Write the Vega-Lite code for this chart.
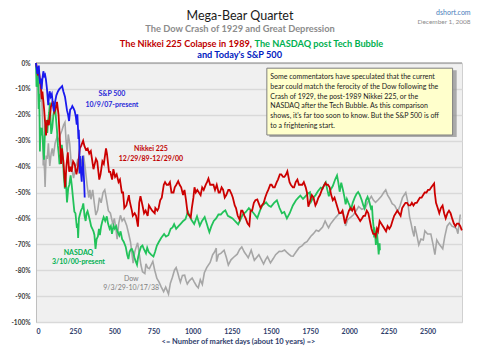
{
"$schema": "https://vega.github.io/schema/vega-lite/v6.json",
"width": 426, "height": 259,
"padding": {"left": 10, "top": 8, "right": 8, "bottom": 7},
"background": "white",
"title": {"text": "Mega-Bear Quartet", "subtitle": "The Dow Crash of 1929 and Great Depression", "anchor": "middle", "dx": -9, "offset": -26, "font": "Lato", "fontSize": 12.5, "fontWeight": "normal", "color": "#1a1a1a", "subtitleFont": "Lato", "subtitleFontSize": 9.3, "subtitleFontWeight": "bold", "subtitleColor": "#8c8c8c", "subtitlePadding": 3},
"datasets": {
"dow": [{"day":0,"pct":0},{"day":5,"pct":-2},{"day":13,"pct":-3},{"day":20,"pct":-8},{"day":25,"pct":-15},{"day":30,"pct":-7.6},{"day":36,"pct":-12},{"day":41,"pct":-20},{"day":45,"pct":-31.6},{"day":46,"pct":-39.6},{"day":48,"pct":-28},{"day":52,"pct":-39},{"day":55,"pct":-42},{"day":58,"pct":-47.9},{"day":62,"pct":-40},{"day":65,"pct":-35.7},{"day":72,"pct":-37},{"day":79,"pct":-31},{"day":84,"pct":-36},{"day":88,"pct":-39.7},{"day":97,"pct":-34.8},{"day":104,"pct":-33},{"day":111,"pct":-36},{"day":122,"pct":-31},{"day":134,"pct":-28.6},{"day":144,"pct":-30},{"day":154,"pct":-27.8},{"day":166,"pct":-26},{"day":176,"pct":-24},{"day":185,"pct":-22.9},{"day":192,"pct":-30},{"day":199,"pct":-34.4},{"day":206,"pct":-27.6},{"day":215,"pct":-31},{"day":224,"pct":-38},{"day":232,"pct":-42},{"day":240,"pct":-44.4},{"day":252,"pct":-40},{"day":260,"pct":-39},{"day":267,"pct":-37},{"day":277,"pct":-42.8},{"day":290,"pct":-38},{"day":304,"pct":-35.7},{"day":315,"pct":-41},{"day":326,"pct":-47},{"day":337,"pct":-52},{"day":344,"pct":-49},{"day":351,"pct":-52.6},{"day":362,"pct":-49},{"day":372,"pct":-54},{"day":382,"pct":-58.7},{"day":394,"pct":-56.8},{"day":405,"pct":-52},{"day":416,"pct":-54},{"day":428,"pct":-50},{"day":439,"pct":-49},{"day":451,"pct":-53},{"day":462,"pct":-57},{"day":475,"pct":-58},{"day":491,"pct":-62.3},{"day":500,"pct":-60},{"day":510,"pct":-64},{"day":518,"pct":-68},{"day":528,"pct":-62},{"day":539,"pct":-58.8},{"day":550,"pct":-61},{"day":562,"pct":-60},{"day":579,"pct":-62.7},{"day":592,"pct":-66},{"day":603,"pct":-69},{"day":609,"pct":-71.7},{"day":620,"pct":-77.3},{"day":630,"pct":-73},{"day":640,"pct":-71},{"day":649,"pct":-69.4},{"day":660,"pct":-74},{"day":670,"pct":-78},{"day":680,"pct":-80.6},{"day":695,"pct":-81.3},{"day":702,"pct":-77.5},{"day":712,"pct":-79},{"day":724,"pct":-79.4},{"day":735,"pct":-78},{"day":746,"pct":-76.6},{"day":758,"pct":-80},{"day":772,"pct":-83.2},{"day":785,"pct":-84.5},{"day":800,"pct":-86.5},{"day":815,"pct":-88.3},{"day":828,"pct":-86.5},{"day":838,"pct":-88},{"day":846,"pct":-89.2},{"day":858,"pct":-85},{"day":871,"pct":-82.7},{"day":884,"pct":-80},{"day":895,"pct":-79},{"day":905,"pct":-81},{"day":914,"pct":-83},{"day":922,"pct":-84.6},{"day":935,"pct":-82},{"day":949,"pct":-81.9},{"day":958,"pct":-84},{"day":966,"pct":-85.3},{"day":980,"pct":-84},{"day":997,"pct":-83},{"day":1010,"pct":-84.5},{"day":1024,"pct":-86},{"day":1036,"pct":-86.8},{"day":1049,"pct":-83.7},{"day":1062,"pct":-85.5},{"day":1075,"pct":-81},{"day":1090,"pct":-79},{"day":1112,"pct":-77},{"day":1128,"pct":-74},{"day":1140,"pct":-73},{"day":1151,"pct":-71.5},{"day":1153,"pct":-76.7},{"day":1165,"pct":-74},{"day":1180,"pct":-73.5},{"day":1201,"pct":-72.3},{"day":1215,"pct":-75},{"day":1228,"pct":-78},{"day":1245,"pct":-76},{"day":1262,"pct":-75},{"day":1285,"pct":-73.8},{"day":1300,"pct":-72},{"day":1314,"pct":-71},{"day":1330,"pct":-73},{"day":1342,"pct":-74},{"day":1355,"pct":-75.2},{"day":1374,"pct":-72.3},{"day":1394,"pct":-76.2},{"day":1410,"pct":-75},{"day":1423,"pct":-74},{"day":1440,"pct":-76},{"day":1453,"pct":-77.6},{"day":1465,"pct":-76},{"day":1478,"pct":-74.8},{"day":1497,"pct":-77.2},{"day":1515,"pct":-75.5},{"day":1530,"pct":-74},{"day":1553,"pct":-72.7},{"day":1570,"pct":-72.8},{"day":1587,"pct":-72.2},{"day":1600,"pct":-73},{"day":1612,"pct":-73.7},{"day":1628,"pct":-74.5},{"day":1642,"pct":-74.6},{"day":1660,"pct":-73},{"day":1680,"pct":-71.3},{"day":1700,"pct":-70.5},{"day":1715,"pct":-69.5},{"day":1730,"pct":-69},{"day":1755,"pct":-66.9},{"day":1770,"pct":-66},{"day":1789,"pct":-64.6},{"day":1805,"pct":-65},{"day":1830,"pct":-63.3},{"day":1846,"pct":-61},{"day":1858,"pct":-62.5},{"day":1868,"pct":-63.6},{"day":1880,"pct":-62.2},{"day":1895,"pct":-61},{"day":1915,"pct":-59.5},{"day":1933,"pct":-58.3},{"day":1958,"pct":-57.2},{"day":1970,"pct":-60},{"day":1977,"pct":-62.9},{"day":1990,"pct":-60.5},{"day":2010,"pct":-59.5},{"day":2027,"pct":-58.6},{"day":2045,"pct":-57},{"day":2060,"pct":-55.4},{"day":2080,"pct":-56.5},{"day":2102,"pct":-56},{"day":2120,"pct":-53.5},{"day":2141,"pct":-51.5},{"day":2155,"pct":-53},{"day":2168,"pct":-53.8},{"day":2185,"pct":-52.8},{"day":2205,"pct":-51.5},{"day":2220,"pct":-50},{"day":2233,"pct":-49},{"day":2245,"pct":-51},{"day":2260,"pct":-52.5},{"day":2274,"pct":-54.3},{"day":2290,"pct":-55},{"day":2303,"pct":-56.5},{"day":2311,"pct":-57.2},{"day":2325,"pct":-55},{"day":2340,"pct":-52},{"day":2361,"pct":-50},{"day":2372,"pct":-53},{"day":2385,"pct":-59.3},{"day":2395,"pct":-62},{"day":2405,"pct":-65},{"day":2414,"pct":-67},{"day":2419,"pct":-63},{"day":2430,"pct":-66},{"day":2444,"pct":-70.2},{"day":2458,"pct":-68},{"day":2473,"pct":-68.3},{"day":2483,"pct":-64.8},{"day":2500,"pct":-66},{"day":2521,"pct":-66},{"day":2535,"pct":-70},{"day":2547,"pct":-74},{"day":2559,"pct":-68.3},{"day":2575,"pct":-70},{"day":2597,"pct":-71.7},{"day":2610,"pct":-67},{"day":2625,"pct":-63},{"day":2641,"pct":-61.7},{"day":2656,"pct":-63},{"day":2672,"pct":-63.4},{"day":2685,"pct":-64},{"day":2694,"pct":-65.9},{"day":2709,"pct":-58.5}],
"nasdaq": [{"day":0,"pct":0},{"day":3,"pct":-9.2},{"day":7,"pct":-5},{"day":10,"pct":-1.7},{"day":14,"pct":-10},{"day":17,"pct":-17.8},{"day":20,"pct":-11.9},{"day":23,"pct":-22},{"day":25,"pct":-34.2},{"day":28,"pct":-24.9},{"day":33,"pct":-28},{"day":38,"pct":-25},{"day":44,"pct":-31},{"day":51,"pct":-37.3},{"day":55,"pct":-30},{"day":59,"pct":-24.5},{"day":66,"pct":-22},{"day":72,"pct":-27},{"day":78,"pct":-22},{"day":84,"pct":-19},{"day":89,"pct":-15.3},{"day":93,"pct":-22},{"day":97,"pct":-27.4},{"day":104,"pct":-25},{"day":111,"pct":-20},{"day":117,"pct":-18},{"day":121,"pct":-16.1},{"day":127,"pct":-21},{"day":134,"pct":-26},{"day":140,"pct":-32},{"day":145,"pct":-35},{"day":150,"pct":-39.1},{"day":157,"pct":-36},{"day":165,"pct":-31.6},{"day":172,"pct":-37},{"day":178,"pct":-44},{"day":184,"pct":-48.5},{"day":187,"pct":-42.7},{"day":193,"pct":-48},{"day":198,"pct":-53.8},{"day":206,"pct":-48.2},{"day":213,"pct":-47},{"day":221,"pct":-43.4},{"day":228,"pct":-47},{"day":236,"pct":-52},{"day":245,"pct":-57.4},{"day":252,"pct":-58},{"day":261,"pct":-63.7},{"day":265,"pct":-62},{"day":269,"pct":-67.6},{"day":274,"pct":-60},{"day":279,"pct":-58.8},{"day":287,"pct":-57},{"day":295,"pct":-56},{"day":302,"pct":-54.2},{"day":310,"pct":-59},{"day":317,"pct":-61},{"day":323,"pct":-58},{"day":329,"pct":-57.2},{"day":337,"pct":-59},{"day":345,"pct":-61},{"day":352,"pct":-63},{"day":360,"pct":-64},{"day":367,"pct":-65},{"day":373,"pct":-66.4},{"day":380,"pct":-71.8},{"day":387,"pct":-68},{"day":395,"pct":-67},{"day":402,"pct":-64},{"day":408,"pct":-66.5},{"day":416,"pct":-63},{"day":424,"pct":-61},{"day":432,"pct":-59.5},{"day":442,"pct":-61},{"day":452,"pct":-59.2},{"day":460,"pct":-62},{"day":470,"pct":-64},{"day":478,"pct":-63},{"day":485,"pct":-66},{"day":495,"pct":-62.8},{"day":503,"pct":-64},{"day":512,"pct":-63},{"day":520,"pct":-65},{"day":532,"pct":-66.6},{"day":540,"pct":-65},{"day":550,"pct":-68},{"day":560,"pct":-69},{"day":573,"pct":-71},{"day":582,"pct":-74},{"day":590,"pct":-75.7},{"day":597,"pct":-73},{"day":605,"pct":-72},{"day":612,"pct":-71.8},{"day":620,"pct":-73},{"day":628,"pct":-75},{"day":638,"pct":-76.8},{"day":645,"pct":-77.9},{"day":652,"pct":-75},{"day":660,"pct":-73},{"day":670,"pct":-71},{"day":680,"pct":-70.5},{"day":690,"pct":-72},{"day":702,"pct":-73.5},{"day":710,"pct":-71.3},{"day":720,"pct":-73},{"day":735,"pct":-74},{"day":750,"pct":-74.7},{"day":760,"pct":-73},{"day":772,"pct":-70.5},{"day":785,"pct":-69},{"day":800,"pct":-67.5},{"day":818,"pct":-66},{"day":830,"pct":-67},{"day":845,"pct":-66.5},{"day":860,"pct":-64},{"day":872,"pct":-63.5},{"day":882,"pct":-62.2},{"day":895,"pct":-64},{"day":910,"pct":-63},{"day":925,"pct":-62},{"day":940,"pct":-61},{"day":954,"pct":-60.3},{"day":970,"pct":-57.4},{"day":980,"pct":-59},{"day":992,"pct":-60.5},{"day":1010,"pct":-62.2},{"day":1028,"pct":-59.2},{"day":1046,"pct":-62.8},{"day":1060,"pct":-61},{"day":1077,"pct":-59.5},{"day":1090,"pct":-62},{"day":1100,"pct":-64},{"day":1107,"pct":-65.3},{"day":1120,"pct":-63},{"day":1135,"pct":-61},{"day":1150,"pct":-60},{"day":1165,"pct":-58.5},{"day":1180,"pct":-58.5},{"day":1195,"pct":-57.5},{"day":1209,"pct":-56.9},{"day":1225,"pct":-59},{"day":1240,"pct":-59.5},{"day":1255,"pct":-60},{"day":1270,"pct":-61},{"day":1291,"pct":-62.3},{"day":1305,"pct":-60.5},{"day":1320,"pct":-58.5},{"day":1340,"pct":-57.5},{"day":1359,"pct":-56},{"day":1375,"pct":-57},{"day":1390,"pct":-58},{"day":1413,"pct":-59.9},{"day":1430,"pct":-57},{"day":1445,"pct":-55},{"day":1469,"pct":-53.8},{"day":1485,"pct":-55},{"day":1500,"pct":-55.5},{"day":1520,"pct":-54},{"day":1538,"pct":-53},{"day":1555,"pct":-56},{"day":1570,"pct":-58},{"day":1585,"pct":-57.5},{"day":1602,"pct":-60},{"day":1620,"pct":-58},{"day":1640,"pct":-55},{"day":1660,"pct":-53},{"day":1675,"pct":-52},{"day":1688,"pct":-51.2},{"day":1705,"pct":-52.5},{"day":1720,"pct":-51.5},{"day":1735,"pct":-50.5},{"day":1749,"pct":-49.9},{"day":1756,"pct":-53.6},{"day":1770,"pct":-52},{"day":1785,"pct":-51},{"day":1800,"pct":-49.5},{"day":1818,"pct":-48.1},{"day":1830,"pct":-48.5},{"day":1840,"pct":-47},{"day":1850,"pct":-46.1},{"day":1860,"pct":-49},{"day":1870,"pct":-51.5},{"day":1880,"pct":-49},{"day":1895,"pct":-47.5},{"day":1910,"pct":-45},{"day":1922,"pct":-43.4},{"day":1930,"pct":-46},{"day":1939,"pct":-49.7},{"day":1949,"pct":-46.2},{"day":1960,"pct":-49},{"day":1970,"pct":-52},{"day":1977,"pct":-54.6},{"day":1985,"pct":-52.5},{"day":1995,"pct":-54},{"day":2003,"pct":-55},{"day":2010,"pct":-57},{"day":2022,"pct":-54},{"day":2035,"pct":-52},{"day":2047,"pct":-50.5},{"day":2057,"pct":-49.8},{"day":2068,"pct":-51},{"day":2080,"pct":-53},{"day":2090,"pct":-55},{"day":2098,"pct":-56.1},{"day":2107,"pct":-53},{"day":2117,"pct":-51.7},{"day":2128,"pct":-53.5},{"day":2141,"pct":-56.8},{"day":2145,"pct":-55},{"day":2151,"pct":-60.7},{"day":2155,"pct":-63},{"day":2159,"pct":-67.4},{"day":2160,"pct":-63.5},{"day":2165,"pct":-66},{"day":2170,"pct":-70.2},{"day":2176,"pct":-64.7},{"day":2182,"pct":-69},{"day":2188,"pct":-73.9},{"day":2194,"pct":-69.6},{"day":2196,"pct":-72.3}],
"nikkei": [{"day":0,"pct":0},{"day":6,"pct":-2},{"day":12,"pct":-4.5},{"day":21,"pct":-4.4},{"day":31,"pct":-9},{"day":37,"pct":-14},{"day":41,"pct":-11},{"day":52,"pct":-18},{"day":64,"pct":-28},{"day":72,"pct":-22},{"day":82,"pct":-24},{"day":95,"pct":-17},{"day":107,"pct":-14.7},{"day":117,"pct":-19},{"day":124,"pct":-18},{"day":134,"pct":-15},{"day":144,"pct":-20},{"day":155,"pct":-33},{"day":160,"pct":-39},{"day":165,"pct":-33},{"day":175,"pct":-38},{"day":186,"pct":-48},{"day":194,"pct":-40},{"day":203,"pct":-34.5},{"day":212,"pct":-42},{"day":220,"pct":-40},{"day":227,"pct":-42},{"day":237,"pct":-38},{"day":247,"pct":-39},{"day":258,"pct":-43},{"day":268,"pct":-40},{"day":280,"pct":-33},{"day":288,"pct":-32},{"day":301,"pct":-30},{"day":309,"pct":-32},{"day":319,"pct":-33.5},{"day":330,"pct":-33},{"day":340,"pct":-35},{"day":350,"pct":-34},{"day":367,"pct":-41},{"day":371,"pct":-40},{"day":383,"pct":-37},{"day":391,"pct":-38},{"day":404,"pct":-45},{"day":412,"pct":-43},{"day":424,"pct":-38},{"day":433,"pct":-39},{"day":447,"pct":-33},{"day":453,"pct":-35},{"day":466,"pct":-42},{"day":474,"pct":-42},{"day":486,"pct":-45},{"day":494,"pct":-41},{"day":505,"pct":-44},{"day":515,"pct":-43},{"day":527,"pct":-46},{"day":536,"pct":-45},{"day":548,"pct":-50},{"day":556,"pct":-50},{"day":564,"pct":-56},{"day":577,"pct":-55},{"day":593,"pct":-51},{"day":597,"pct":-53},{"day":612,"pct":-57},{"day":618,"pct":-59},{"day":630,"pct":-58},{"day":639,"pct":-59},{"day":651,"pct":-63.2},{"day":659,"pct":-54},{"day":667,"pct":-51.4},{"day":680,"pct":-55},{"day":690,"pct":-58},{"day":700,"pct":-57},{"day":713,"pct":-59},{"day":721,"pct":-55},{"day":731,"pct":-56},{"day":742,"pct":-57},{"day":758,"pct":-58},{"day":762,"pct":-56},{"day":775,"pct":-57},{"day":783,"pct":-56},{"day":793,"pct":-53},{"day":803,"pct":-52},{"day":816,"pct":-47},{"day":824,"pct":-46},{"day":834,"pct":-47},{"day":845,"pct":-47},{"day":855,"pct":-46},{"day":865,"pct":-50},{"day":878,"pct":-50},{"day":886,"pct":-48},{"day":896,"pct":-47},{"day":908,"pct":-45.6},{"day":917,"pct":-47},{"day":927,"pct":-48},{"day":939,"pct":-51},{"day":948,"pct":-49},{"day":958,"pct":-53},{"day":968,"pct":-58},{"day":988,"pct":-59.6},{"day":995,"pct":-56},{"day":1005,"pct":-52},{"day":1012,"pct":-48},{"day":1020,"pct":-50},{"day":1030,"pct":-49},{"day":1040,"pct":-50},{"day":1051,"pct":-51},{"day":1061,"pct":-48},{"day":1071,"pct":-49},{"day":1084,"pct":-47},{"day":1092,"pct":-46},{"day":1101,"pct":-44.6},{"day":1112,"pct":-47},{"day":1125,"pct":-47},{"day":1133,"pct":-47},{"day":1143,"pct":-49},{"day":1154,"pct":-47},{"day":1166,"pct":-50},{"day":1174,"pct":-50},{"day":1185,"pct":-48},{"day":1195,"pct":-49},{"day":1205,"pct":-52},{"day":1215,"pct":-51},{"day":1228,"pct":-49},{"day":1236,"pct":-49},{"day":1248,"pct":-50.5},{"day":1257,"pct":-52},{"day":1269,"pct":-55},{"day":1277,"pct":-56},{"day":1288,"pct":-59},{"day":1300,"pct":-60.5},{"day":1310,"pct":-57},{"day":1318,"pct":-57},{"day":1331,"pct":-59},{"day":1339,"pct":-60},{"day":1351,"pct":-62},{"day":1362,"pct":-62.8},{"day":1370,"pct":-57},{"day":1380,"pct":-57},{"day":1391,"pct":-54},{"day":1401,"pct":-53},{"day":1413,"pct":-52.7},{"day":1421,"pct":-54},{"day":1434,"pct":-56},{"day":1442,"pct":-55},{"day":1454,"pct":-54},{"day":1463,"pct":-52},{"day":1475,"pct":-50},{"day":1483,"pct":-49},{"day":1496,"pct":-47},{"day":1504,"pct":-47},{"day":1514,"pct":-48},{"day":1524,"pct":-48},{"day":1537,"pct":-46},{"day":1545,"pct":-45},{"day":1557,"pct":-43},{"day":1566,"pct":-43},{"day":1578,"pct":-44},{"day":1586,"pct":-44},{"day":1597,"pct":-43},{"day":1605,"pct":-41.8},{"day":1619,"pct":-46},{"day":1627,"pct":-47},{"day":1640,"pct":-48},{"day":1648,"pct":-48},{"day":1658,"pct":-46},{"day":1669,"pct":-45},{"day":1679,"pct":-47},{"day":1689,"pct":-47},{"day":1700,"pct":-47},{"day":1710,"pct":-46},{"day":1722,"pct":-48},{"day":1730,"pct":-50},{"day":1739,"pct":-55.5},{"day":1751,"pct":-53},{"day":1761,"pct":-51},{"day":1772,"pct":-52},{"day":1784,"pct":-55},{"day":1792,"pct":-54},{"day":1803,"pct":-52},{"day":1813,"pct":-51},{"day":1825,"pct":-49},{"day":1833,"pct":-48},{"day":1848,"pct":-46.3},{"day":1854,"pct":-47},{"day":1864,"pct":-47},{"day":1875,"pct":-48},{"day":1885,"pct":-51},{"day":1895,"pct":-53},{"day":1906,"pct":-52},{"day":1916,"pct":-54},{"day":1926,"pct":-56},{"day":1936,"pct":-58},{"day":1947,"pct":-58},{"day":1957,"pct":-57},{"day":1973,"pct":-62},{"day":1978,"pct":-61},{"day":1988,"pct":-59},{"day":1998,"pct":-57},{"day":2009,"pct":-56},{"day":2019,"pct":-57},{"day":2031,"pct":-55.5},{"day":2039,"pct":-58},{"day":2050,"pct":-59},{"day":2060,"pct":-60},{"day":2070,"pct":-61},{"day":2081,"pct":-60},{"day":2091,"pct":-59},{"day":2101,"pct":-59},{"day":2112,"pct":-57},{"day":2122,"pct":-58},{"day":2132,"pct":-61},{"day":2142,"pct":-64},{"day":2153,"pct":-66},{"day":2163,"pct":-66},{"day":2169,"pct":-66.9},{"day":2177,"pct":-64},{"day":2184,"pct":-65},{"day":2194,"pct":-61},{"day":2204,"pct":-62},{"day":2215,"pct":-63},{"day":2225,"pct":-64},{"day":2235,"pct":-65},{"day":2245,"pct":-63},{"day":2256,"pct":-64},{"day":2266,"pct":-63},{"day":2276,"pct":-61},{"day":2287,"pct":-59},{"day":2297,"pct":-58},{"day":2307,"pct":-57},{"day":2318,"pct":-58},{"day":2328,"pct":-59},{"day":2338,"pct":-56},{"day":2348,"pct":-55},{"day":2359,"pct":-54},{"day":2369,"pct":-54},{"day":2379,"pct":-55},{"day":2390,"pct":-55},{"day":2400,"pct":-54},{"day":2410,"pct":-55},{"day":2421,"pct":-54},{"day":2431,"pct":-54},{"day":2441,"pct":-53},{"day":2451,"pct":-52},{"day":2462,"pct":-52},{"day":2472,"pct":-51},{"day":2482,"pct":-50},{"day":2493,"pct":-50},{"day":2503,"pct":-49},{"day":2513,"pct":-49},{"day":2524,"pct":-48},{"day":2542,"pct":-46.5},{"day":2546,"pct":-50},{"day":2554,"pct":-54},{"day":2565,"pct":-56},{"day":2575,"pct":-58},{"day":2585,"pct":-56},{"day":2596,"pct":-55},{"day":2606,"pct":-58},{"day":2616,"pct":-60},{"day":2627,"pct":-58},{"day":2637,"pct":-57},{"day":2647,"pct":-58},{"day":2657,"pct":-60},{"day":2668,"pct":-62},{"day":2678,"pct":-63},{"day":2688,"pct":-62},{"day":2699,"pct":-62},{"day":2709,"pct":-63},{"day":2719,"pct":-64.6}],
"sp500": [{"day":0,"pct":0},{"day":4,"pct":-2},{"day":9,"pct":-4.2},{"day":14,"pct":-2},{"day":18,"pct":-1},{"day":22,"pct":-5},{"day":26,"pct":-8},{"day":31,"pct":-6},{"day":36,"pct":-10.1},{"day":41,"pct":-6},{"day":47,"pct":-3.2},{"day":53,"pct":-5},{"day":58,"pct":-4.5},{"day":63,"pct":-6.2},{"day":70,"pct":-10},{"day":78,"pct":-16.3},{"day":83,"pct":-13},{"day":87,"pct":-10.9},{"day":94,"pct":-13},{"day":101,"pct":-12},{"day":108,"pct":-16},{"day":114,"pct":-18.7},{"day":122,"pct":-15},{"day":130,"pct":-12.5},{"day":140,"pct":-11},{"day":150,"pct":-10},{"day":158,"pct":-9.5},{"day":167,"pct":-8.9},{"day":175,"pct":-11},{"day":185,"pct":-13},{"day":198,"pct":-18.3},{"day":205,"pct":-20},{"day":211,"pct":-22.4},{"day":218,"pct":-18},{"day":226,"pct":-17.5},{"day":232,"pct":-16.6},{"day":240,"pct":-17.5},{"day":247,"pct":-18.5},{"day":255,"pct":-21},{"day":260,"pct":-23.8},{"day":264,"pct":-19.8},{"day":268,"pct":-25},{"day":271,"pct":-29.3},{"day":273,"pct":-25.8},{"day":276,"pct":-30},{"day":279,"pct":-42.6},{"day":281,"pct":-35.9},{"day":283,"pct":-42},{"day":285,"pct":-40},{"day":288,"pct":-43},{"day":292,"pct":-45.8},{"day":295,"pct":-40},{"day":298,"pct":-35.8},{"day":301,"pct":-39},{"day":304,"pct":-42},{"day":308,"pct":-47},{"day":311,"pct":-51.9}]
},
"layer": [
{"data": {"name": "dow"}, "mark": {"type": "line", "color": "#a6a6a6", "strokeWidth": 1.6},
 "encoding": {
  "x": {"field": "day", "type": "quantitative", "scale": {"domain": [0, 2720], "nice": false, "zero": false},
        "axis": {"values": [0,250,500,750,1000,1250,1500,1750,2000,2250,2500], "format": "d", "title": "<= Number of market days (about 10 years) =>"}},
  "y": {"field": "pct", "type": "quantitative", "scale": {"domain": [-100, 0], "nice": false},
        "axis": {"values": [0,-10,-20,-30,-40,-50,-60,-70,-80,-90,-100], "labelExpr": "datum.value + '%'", "title": null}}}},
{"data": {"values": [{}]}, "mark": {"type": "rule", "color": "#8a8a8a", "strokeWidth": 1}, "encoding": {"y": {"datum": 0, "type": "quantitative"}}},
{"data": {"name": "nasdaq"}, "mark": {"type": "line", "color": "#22c25a", "strokeWidth": 1.8},
 "encoding": {"x": {"field": "day", "type": "quantitative"}, "y": {"field": "pct", "type": "quantitative"}}},
{"data": {"name": "nikkei"}, "mark": {"type": "line", "color": "#cc0000", "strokeWidth": 1.8},
 "encoding": {"x": {"field": "day", "type": "quantitative"}, "y": {"field": "pct", "type": "quantitative"}}},
{"data": {"name": "sp500"}, "mark": {"type": "line", "color": "#1a1aee", "strokeWidth": 1.8},
 "encoding": {"x": {"field": "day", "type": "quantitative"}, "y": {"field": "pct", "type": "quantitative"}}},
{"data": {"values": [{}]}, "mark": {"type": "rect", "fill": "#8c8c8c", "opacity": 0.7},
 "encoding": {"x": {"datum": 1490, "type": "quantitative"}, "x2": {"datum": 2686}, "y": {"datum": -2.8, "type": "quantitative"}, "y2": {"datum": -28.6}}},
{"data": {"values": [{}]}, "mark": {"type": "rect", "fill": "#ffffcc", "stroke": "#7f7f7f", "strokeWidth": 1},
 "encoding": {"x": {"datum": 1474, "type": "quantitative"}, "x2": {"datum": 2660}, "y": {"datum": -2.0, "type": "quantitative"}, "y2": {"datum": -27.8}}},
{"data": {"values": [{"note": ["Some commentators have speculated that the current", "bear could match the ferocity of the Dow following the", "Crash of 1929, the post-1989 Nikkei 225, or the", "NASDAQ after the Tech Bubble. As this comparison", "shows, it's far too soon to know. But the S&P 500 is off", "to a frightening start."]}]},
 "mark": {"type": "text", "align": "left", "baseline": "top", "font": "Lato", "fontSize": 7, "lineHeight": 9.8, "color": "#1a1a1a"},
 "encoding": {"x": {"datum": 1496, "type": "quantitative"}, "y": {"datum": -3.9, "type": "quantitative"}, "text": {"field": "note"}}},
{"data": {"values": [{"label": ["S&P 500", "10/9/07-present"]}]},
 "mark": {"type": "text", "align": "center", "baseline": "top", "font": "Lato", "fontSize": 7, "fontWeight": "bold", "lineHeight": 11, "color": "#2a2ad8"},
 "encoding": {"x": {"datum": 485, "type": "quantitative"}, "y": {"datum": -10.4, "type": "quantitative"}, "text": {"field": "label"}}},
{"data": {"values": [{"label": ["Nikkei 225", "12/29/89-12/29/00"]}]},
 "mark": {"type": "text", "align": "center", "baseline": "top", "font": "Lato", "fontSize": 7, "fontWeight": "bold", "lineHeight": 10.6, "color": "#c00000"},
 "encoding": {"x": {"datum": 734, "type": "quantitative"}, "y": {"datum": -31.5, "type": "quantitative"}, "text": {"field": "label"}}},
{"data": {"values": [{"label": ["NASDAQ", "3/10/00-present"]}]},
 "mark": {"type": "text", "align": "center", "baseline": "top", "font": "Lato", "fontSize": 7, "fontWeight": "bold", "lineHeight": 9.3, "color": "#00b050"},
 "encoding": {"x": {"datum": 271, "type": "quantitative"}, "y": {"datum": -71.7, "type": "quantitative"}, "text": {"field": "label"}}},
{"data": {"values": [{"label": ["Dow", "9/3/29-10/17/38"]}]},
 "mark": {"type": "text", "align": "center", "baseline": "top", "font": "Lato", "fontSize": 7, "lineHeight": 9, "color": "#7f7f7f"},
 "encoding": {"x": {"datum": 608, "type": "quantitative"}, "y": {"datum": -82.0, "type": "quantitative"}, "text": {"field": "label"}}},
{"data": {"values": [{"label": "The Nikkei 225 Colapse in 1989,"}]},
 "mark": {"type": "text", "align": "right", "baseline": "middle", "font": "Lato", "fontSize": 9.2, "fontWeight": "bold", "color": "#c00000"},
 "encoding": {"x": {"datum": 1379, "type": "quantitative"}, "y": {"datum": 7.5, "type": "quantitative"}, "text": {"field": "label"}}},
{"data": {"values": [{"label": "The NASDAQ post Tech Bubble"}]},
 "mark": {"type": "text", "align": "left", "baseline": "middle", "font": "Lato", "fontSize": 9.2, "fontWeight": "bold", "color": "#00b050"},
 "encoding": {"x": {"datum": 1395, "type": "quantitative"}, "y": {"datum": 7.5, "type": "quantitative"}, "text": {"field": "label"}}},
{"data": {"values": [{"label": "and Today's S&P 500"}]},
 "mark": {"type": "text", "align": "center", "baseline": "middle", "font": "Lato", "fontSize": 9.2, "fontWeight": "bold", "color": "#0020c0"},
 "encoding": {"x": {"datum": 1300, "type": "quantitative"}, "y": {"datum": 3.1, "type": "quantitative"}, "text": {"field": "label"}}},
{"data": {"values": [{"label": "dshort.com"}]},
 "mark": {"type": "text", "align": "right", "baseline": "middle", "font": "Lato", "fontSize": 7, "color": "#4a7ebb"},
 "encoding": {"x": {"datum": 2775, "type": "quantitative"}, "y": {"datum": 19.4, "type": "quantitative"}, "text": {"field": "label"}}},
{"data": {"values": [{"label": "December 1, 2008"}]},
 "mark": {"type": "text", "align": "right", "baseline": "middle", "font": "Lato", "fontSize": 6.5, "color": "#8c8c8c"},
 "encoding": {"x": {"datum": 2775, "type": "quantitative"}, "y": {"datum": 15.8, "type": "quantitative"}, "text": {"field": "label"}}}
],
"config": {
 "font": "Lato",
 "view": {"fill": "#f0f0f0", "stroke": "#d0d0d0"},
 "axis": {"labelOverlap": false, "ticks": false, "labelFont": "Lato", "labelFontWeight": "bold", "titleFont": "Lato"},
 "axisX": {"grid": false, "domain": false, "labelFontSize": 7, "labelColor": "#2e3d6b", "labelPadding": 5, "titleFontSize": 7.5, "titleFontWeight": "bold", "titleColor": "#2e3d6b", "titlePadding": 3, "titleX": 202, "tickCount": 11},
 "axisY": {"grid": true, "gridColor": "#d9d9d9", "gridWidth": 1.5, "domain": true, "domainColor": "#bfbfbf", "labelFontSize": 6.5, "labelColor": "#3a3a3a", "labelPadding": 6, "tickCount": 11}
}
}
